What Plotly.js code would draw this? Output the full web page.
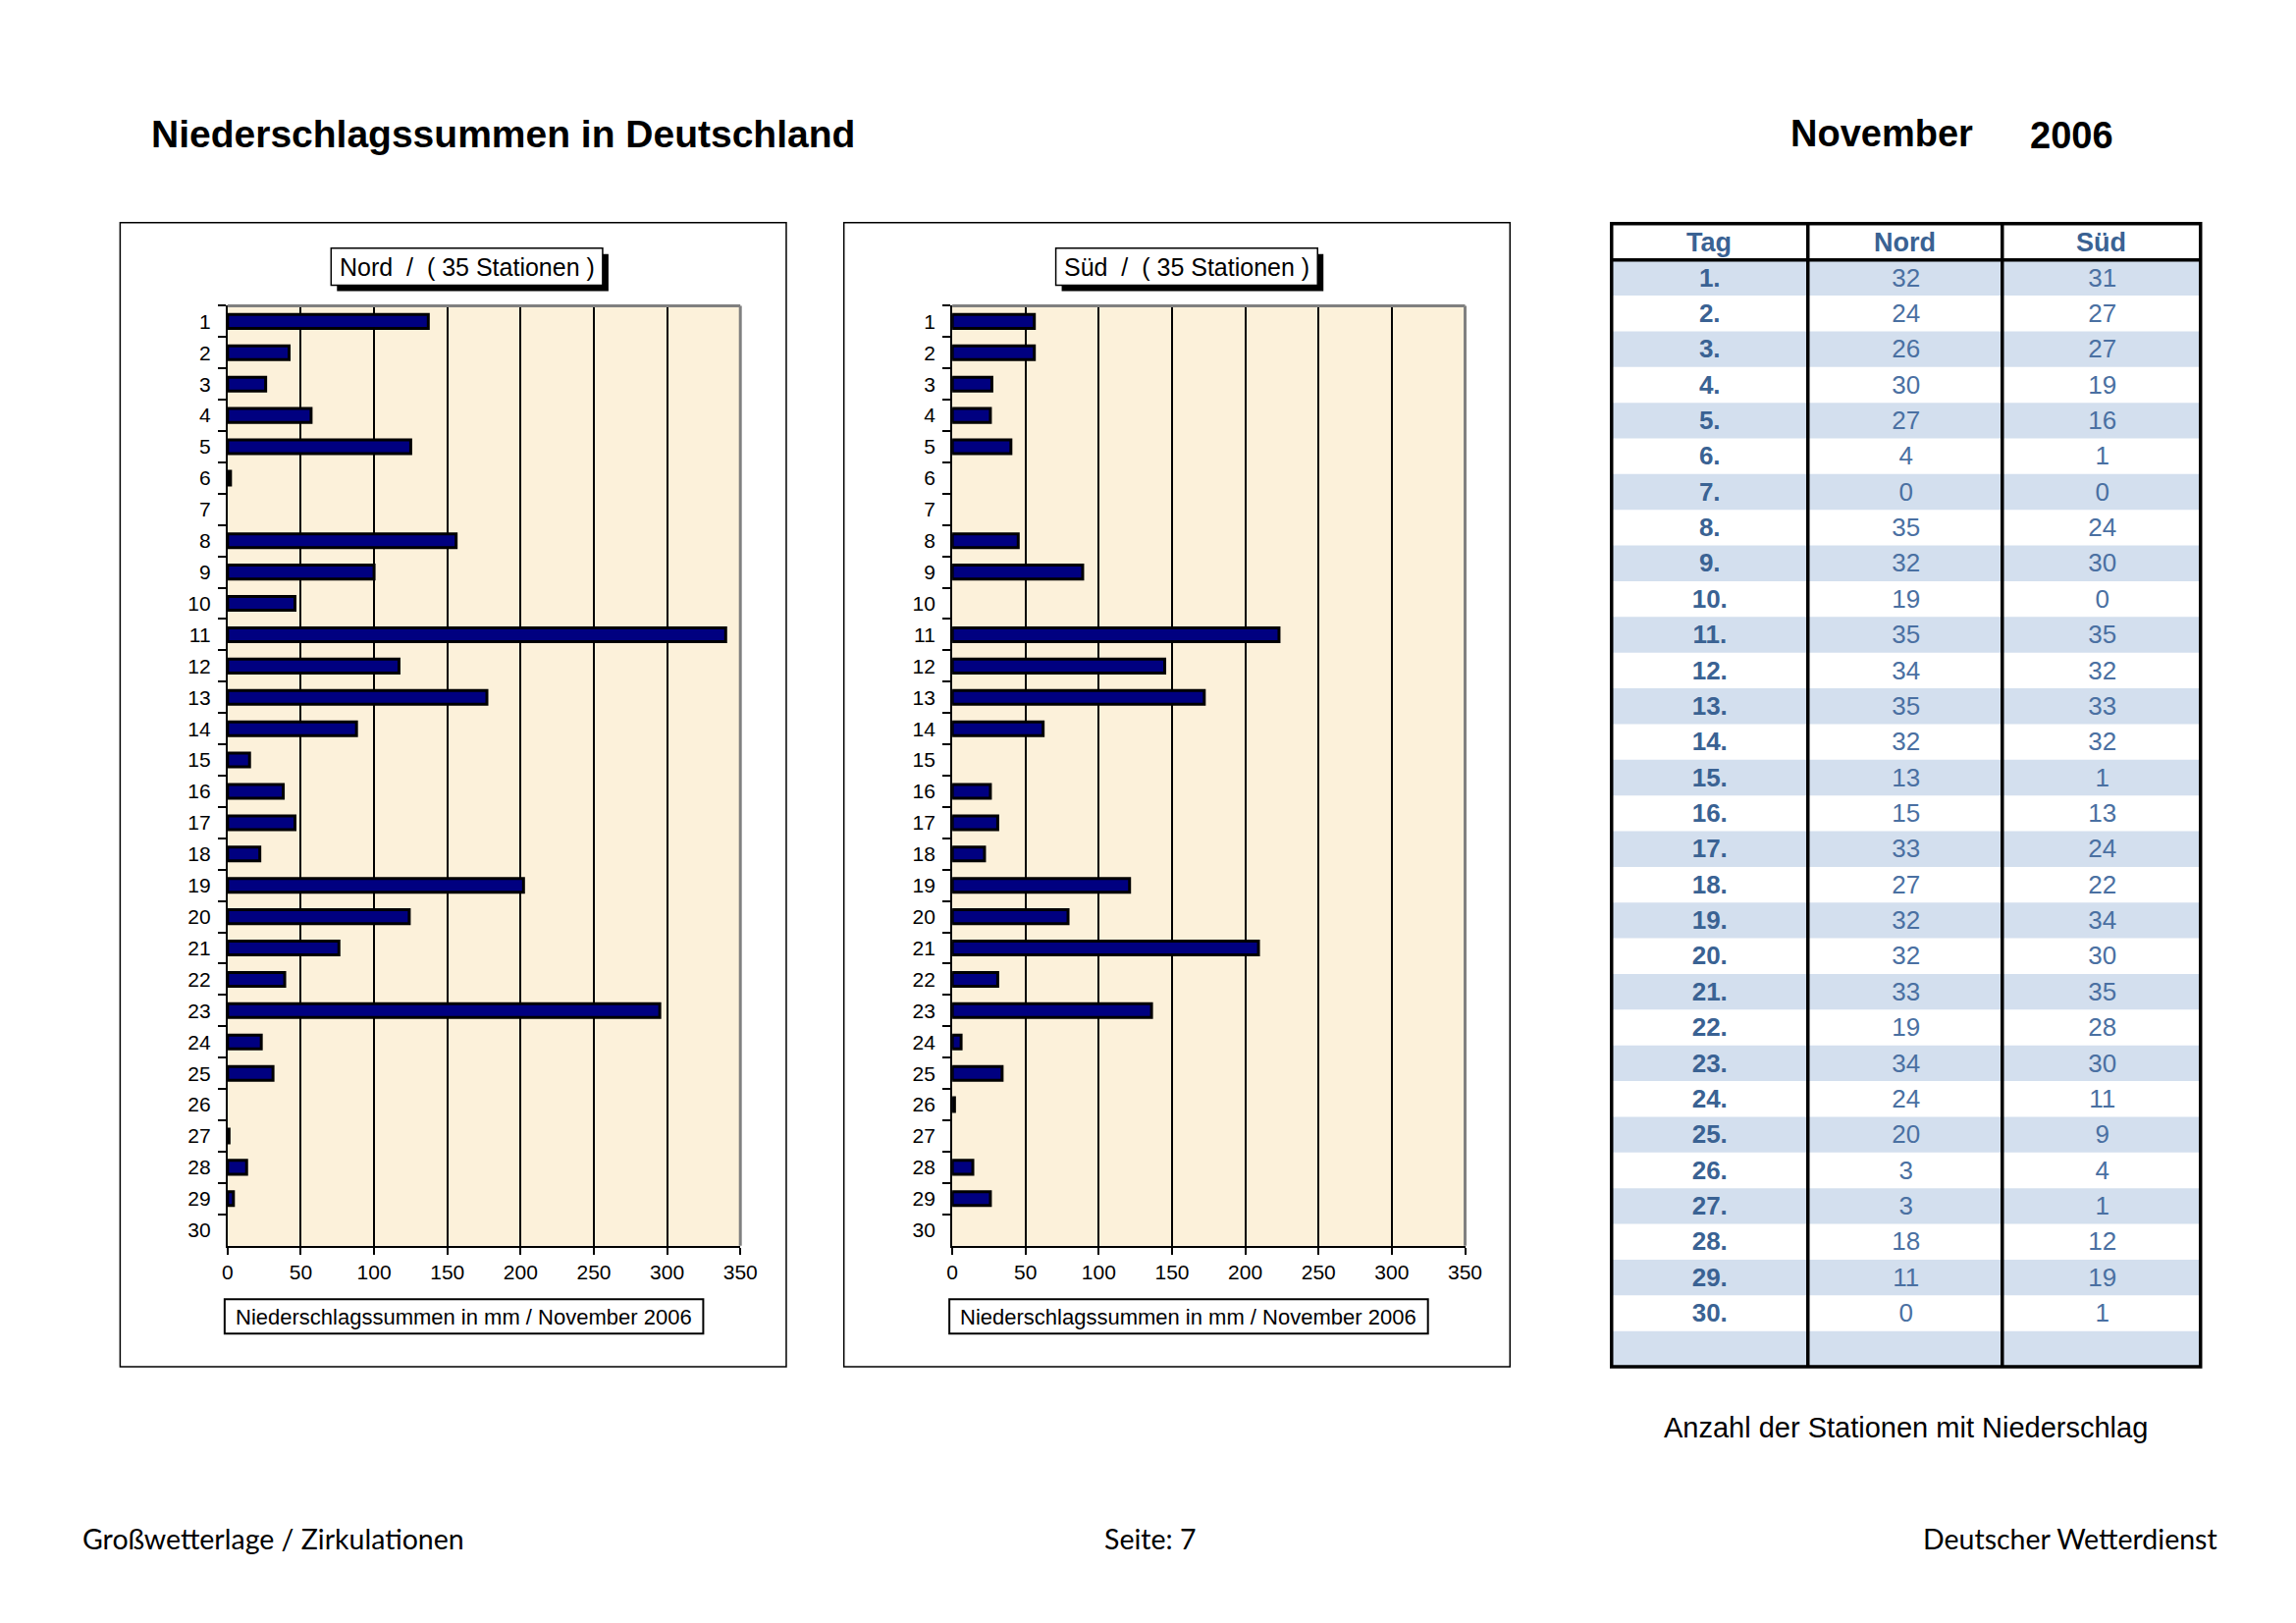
<!DOCTYPE html>
<html><head><meta charset="utf-8">
<script src="https://cdn.plot.ly/plotly-3.0.1.min.js"></script>
<style>html,body{margin:0;padding:0;background:#fff;}#chart{width:2339px;height:1653px;}</style>
</head><body><div id="chart"></div>
<script>
// ---- data ----
const days = ['1','2','3','4','5','6','7','8','9','10','11','12','13','14','15','16','17','18','19','20','21','22','23','24','25','26','27','28','29','30'];
const nordMM = [137,42,26,57,125,2,0,156,100,46,340,117,177,88,15,38,46,22,202,124,76,39,295,23,31,0,1,13,4,0];
const suedMM = [56,56,27,26,40,0,0,45,89,0,223,145,172,62,0,26,31,22,121,79,209,31,136,6,34,1.5,0,14,26,0];
const nordStations = [32,24,26,30,27,4,0,35,32,19,35,34,35,32,13,15,33,27,32,32,33,19,34,24,20,3,3,18,11,0];
const suedStations = [31,27,27,19,16,1,0,24,30,0,35,32,33,32,1,13,24,22,34,30,35,28,30,11,9,4,1,12,19,1];
const xTicks = [0,50,100,150,200,250,300,350];
const tableHeader = ['Tag','Nord','Süd'];
const titleText = 'Niederschlagssummen in Deutschland';
const monthText = 'November';
const yearText = '2006';
const nordTitle = 'Nord  /  ( 35 Stationen )';
const suedTitle = 'Süd  /  ( 35 Stationen )';
const axisTitle = 'Niederschlagssummen in mm / November 2006';
const tableCaption = 'Anzahl der Stationen mit Niederschlag';
const footer = ['Großwetterlage / Zirkulationen','Seite: 7','Deutscher Wetterdienst'];

// ---- page geometry helpers ----
const W = 2339, H = 1653, S = 0.995;
const X = p => p * S / W;
const Y = p => 1 - p * S / H;
const FONT = 'Liberation Sans, Arial, sans-serif';
const FOOT = 'Lato, Noto Sans, sans-serif';

function barTrace(vals, xa, ya) {
  return {
    type: 'bar', orientation: 'h', y: days, x: vals.map(v => v === 0 ? null : v), xaxis: xa, yaxis: ya,
    width: 0.44, marker: {color: '#000080', line: {color: '#000000', width: 3}},
    hoverinfo: 'skip', showlegend: false
  };
}

// table as a text-only subplot
const tagCol = days.map(d => '<b>' + d + '.</b>');
const rowPos = days.map((d, i) => i + 0.56);
function textCol(col, texts, font) {
  return {type: 'scatter', mode: 'text', xaxis: 'x3', yaxis: 'y3', x: texts.map(() => col), y: rowPos,
    text: texts, textposition: 'middle center', textfont: font, hoverinfo: 'skip', showlegend: false, cliponaxis: false};
}
const cellFont = {family: FONT, size: 26, color: '#4A70A2'};
const tableTraces = [
  textCol(0.5, tagCol, {family: FONT, size: 26, color: '#3A6293'}),
  textCol(1.5, nordStations.map(String), cellFont),
  textCol(2.5, suedStations.map(String), cellFont)
];

function axisX(l, r) {
  return {
    domain: [X(l), X(r)], range: [0, 350], tickvals: xTicks, ticktext: xTicks.map(String),
    showgrid: true, gridcolor: '#000000', gridwidth: 2, zeroline: false,
    showline: true, linecolor: '#000000', linewidth: 2,
    ticks: 'outside', ticklen: 7, tickwidth: 2, tickcolor: '#000000',
    tickfont: {family: FONT, size: 21, color: '#000'}, fixedrange: true
  };
}
function axisY() {
  return {
    domain: [Y(1275), Y(313)], type: 'category', categoryorder: 'array', categoryarray: days,
    autorange: 'reversed', tickson: 'boundaries', ticks: 'outside', ticklen: 8, tickwidth: 2,
    tickcolor: '#000000', showline: true, linecolor: '#000000', linewidth: 2, showgrid: false,
    zeroline: false, tickfont: {family: FONT, size: 21, color: '#000'}, fixedrange: true,
    ticklabelstandoff: 11
  };
}

const shapes = [];
function rect(x0, y0, x1, y1, opts) {
  shapes.push(Object.assign({type: 'rect', xref: 'paper', yref: 'paper',
    x0: X(x0), x1: X(x1), y0: Y(y1), y1: Y(y0)}, opts));
}
function line(x0, y0, x1, y1, color, width) {
  shapes.push({type: 'line', xref: 'paper', yref: 'paper', x0: X(x0), x1: X(x1), y0: Y(y0), y1: Y(y1),
    line: {color: color, width: width}, layer: 'above'});
}
// parchment plot backgrounds
['', '2'].forEach(n => shapes.push({type: 'rect', xref: 'x' + n + ' domain', yref: 'y' + n + ' domain',
  x0: 0, x1: 1, y0: 0, y1: 1, fillcolor: '#FCF1DA', line: {width: 0}, layer: 'below'}));
// table row shading
days.concat(['']).forEach((d, i) => {
  if (i % 2 === 0) shapes.push({type: 'rect', xref: 'x3', yref: 'y3', x0: 0, x1: 3, y0: i, y1: i + 1,
    fillcolor: '#D3DFEE', line: {width: 0}, layer: 'below'});
});
// chart frames
rect(123, 228, 805, 1399, {line: {color: '#000', width: 1.5}, fillcolor: 'rgba(0,0,0,0)', layer: 'below'});
rect(864, 228, 1546, 1399, {line: {color: '#000', width: 1.5}, fillcolor: 'rgba(0,0,0,0)', layer: 'below'});
// title boxes with shadow
rect(345, 260, 623, 298, {line: {width: 0}, fillcolor: '#000', layer: 'above'});
rect(339, 254, 617, 292, {line: {color: '#000', width: 1.5}, fillcolor: '#fff', layer: 'above'});
rect(1087, 260, 1355, 298, {line: {width: 0}, fillcolor: '#000', layer: 'above'});
rect(1081, 254, 1349, 292, {line: {color: '#000', width: 1.5}, fillcolor: '#fff', layer: 'above'});
// axis title boxes
rect(230, 1330, 720, 1365, {line: {color: '#000', width: 2}, fillcolor: '#fff', layer: 'above'});
rect(972, 1330, 1462, 1365, {line: {color: '#000', width: 2}, fillcolor: '#fff', layer: 'above'});
// grey plot borders (top, right)
line(233, 313, 758, 313, '#808080', 3); line(758, 313, 758, 1275, '#808080', 3);
line(975, 313, 1500, 313, '#808080', 3); line(1500, 313, 1500, 1275, '#808080', 3);
// table borders
rect(1650, 229, 2253, 1399, {line: {color: '#000', width: 3.5}, fillcolor: 'rgba(0,0,0,0)', layer: 'above'});
line(1851, 229, 1851, 1399, '#000', 3.5);
line(2050, 229, 2050, 1399, '#000', 3.5);
line(1650, 266, 2253, 266, '#000', 3.5);

function ann(text, x, y, size, opts) {
  return Object.assign({text: text, xref: 'paper', yref: 'paper', x: X(x), y: Y(y), showarrow: false,
    xanchor: 'left', yanchor: 'middle', font: {family: FONT, size: size, color: '#000'}}, opts || {});
}
const headFont = {family: FONT, size: 27, color: '#3A6293'};
const annotations = [
  ann('<b>' + titleText + '</b>', 153, 137, 39),
  ann('<b>' + monthText + '</b>', 1831, 137, 38),
  ann('<b>' + yearText + '</b>', 2076, 139, 38),
  ann(nordTitle, 478, 273, 25, {xanchor: 'center'}),
  ann(suedTitle, 1215, 273, 25, {xanchor: 'center'}),
  ann(axisTitle, 475, 1348, 22, {xanchor: 'center'}),
  ann(axisTitle, 1217, 1348, 22, {xanchor: 'center'}),
  ann(tableCaption, 1951, 1461, 29, {xanchor: 'center'}),
  ann('<b>' + tableHeader[0] + '</b>', 1750, 248, 27, {xanchor: 'center', font: headFont}),
  ann('<b>' + tableHeader[1] + '</b>', 1950, 248, 27, {xanchor: 'center', font: headFont}),
  ann('<b>' + tableHeader[2] + '</b>', 2151, 248, 27, {xanchor: 'center', font: headFont}),
  ann(footer[0], 82, 1575, 28.5, {font: {family: FOOT, size: 28.5, color: '#000'}}),
  ann(footer[1], 1177, 1575, 28.5, {xanchor: 'center', font: {family: FOOT, size: 28.5, color: '#000'}}),
  ann(footer[2], 2272, 1575, 28.5, {xanchor: 'right', font: {family: FOOT, size: 28.5, color: '#000'}})
];

const layout = {
  width: W, height: H, margin: {l: 0, r: 0, t: 0, b: 0},
  paper_bgcolor: '#FFFFFF', plot_bgcolor: '#FFFFFF', showlegend: false,
  xaxis: Object.assign(axisX(233, 758), {anchor: 'y'}),
  yaxis: Object.assign(axisY(), {anchor: 'x'}),
  xaxis2: Object.assign(axisX(975, 1500), {anchor: 'y2'}),
  yaxis2: Object.assign(axisY(), {anchor: 'x2'}),
  xaxis3: {domain: [X(1650), X(2253)], range: [0, 3], visible: false, fixedrange: true, anchor: 'y3'},
  yaxis3: {domain: [Y(1399), Y(266)], range: [31, 0], visible: false, fixedrange: true, anchor: 'x3'},
  shapes: shapes, annotations: annotations
};

Plotly.newPlot('chart', [barTrace(nordMM, 'x', 'y'), barTrace(suedMM, 'x2', 'y2')].concat(tableTraces), layout,
  {displayModeBar: false, staticPlot: true});
</script></body></html>
